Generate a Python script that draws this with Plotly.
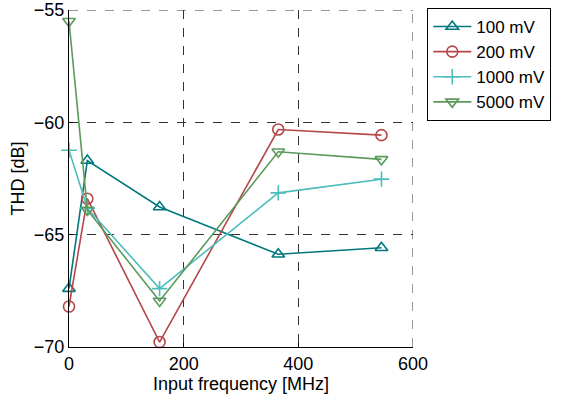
import plotly.graph_objects as go

freq = [0, 32, 158, 365, 545]
thd_100 = [-67.4, -61.7, -63.77, -65.87, -65.58]
thd_200 = [-68.2, -63.4, -69.78, -60.32, -60.57]
thd_1000 = [-61.24, -63.82, -67.4, -63.14, -62.53]
thd_5000 = [-55.5, -63.9, -67.95, -61.31, -61.65]

series = [
    ("100 mV", thd_100, "#00787F", "triangle-up-open"),
    ("200 mV", thd_200, "#B5474A", "circle-open"),
    ("1000 mV", thd_1000, "#4CBDBA", "cross-thin-open"),
    ("5000 mV", thd_5000, "#5A9A5A", "triangle-down-open"),
]

fig = go.Figure()
for name, ys, color, sym in series:
    fig.add_trace(go.Scatter(
        x=freq, y=ys, name=name, mode="lines+markers",
        line=dict(color=color, width=1.6),
        marker=dict(symbol=sym, size=11, color=color, line=dict(color=color, width=1.6)),
        cliponaxis=False,
    ))

FONT = "Liberation Sans, Arial"
axis_common = dict(
    showline=True, linecolor="black", linewidth=1, mirror=False,
    showgrid=True, gridcolor="#333333", griddash="dash", gridwidth=1,
    zeroline=False, ticks="inside", ticklen=4, tickcolor="black",
    tickfont=dict(family=FONT, size=18, color="black"),
)

# dashed grid lines at the top and right edges of the plot area
fig.add_shape(type="line", xref="paper", yref="y", x0=0, x1=1, y0=-55, y1=-55,
              line=dict(color="#333333", width=1, dash="dash"), layer="below")
fig.add_shape(type="line", xref="x", yref="paper", x0=600, x1=600, y0=0, y1=1,
              line=dict(color="#333333", width=1, dash="dash"), layer="below")

fig.update_layout(
    width=567, height=403,
    margin=dict(l=68.5, r=154.3, t=10, b=56.3, autoexpand=False),
    plot_bgcolor="white", paper_bgcolor="white",
    font=dict(family=FONT, size=18, color="black"),
    xaxis=dict(range=[0, 600], tickvals=[0, 200, 400, 600],
               title=dict(text="Input frequency [MHz]", font=dict(size=18), standoff=2),
               **axis_common),
    yaxis=dict(range=[-70, -55], tickvals=[-70, -65, -60, -55],
               title=dict(text="THD [dB]", font=dict(size=18), standoff=4),
               **axis_common),
    legend=dict(x=1.0415, y=1.006, xanchor="left", yanchor="top",
                bordercolor="black", borderwidth=1, bgcolor="white",
                font=dict(size=17), tracegroupgap=0, itemwidth=38),
    showlegend=True,
)

fig.write_html("out.html", config={"displayModeBar": False},
               post_script="document.body.style.margin='0';")
